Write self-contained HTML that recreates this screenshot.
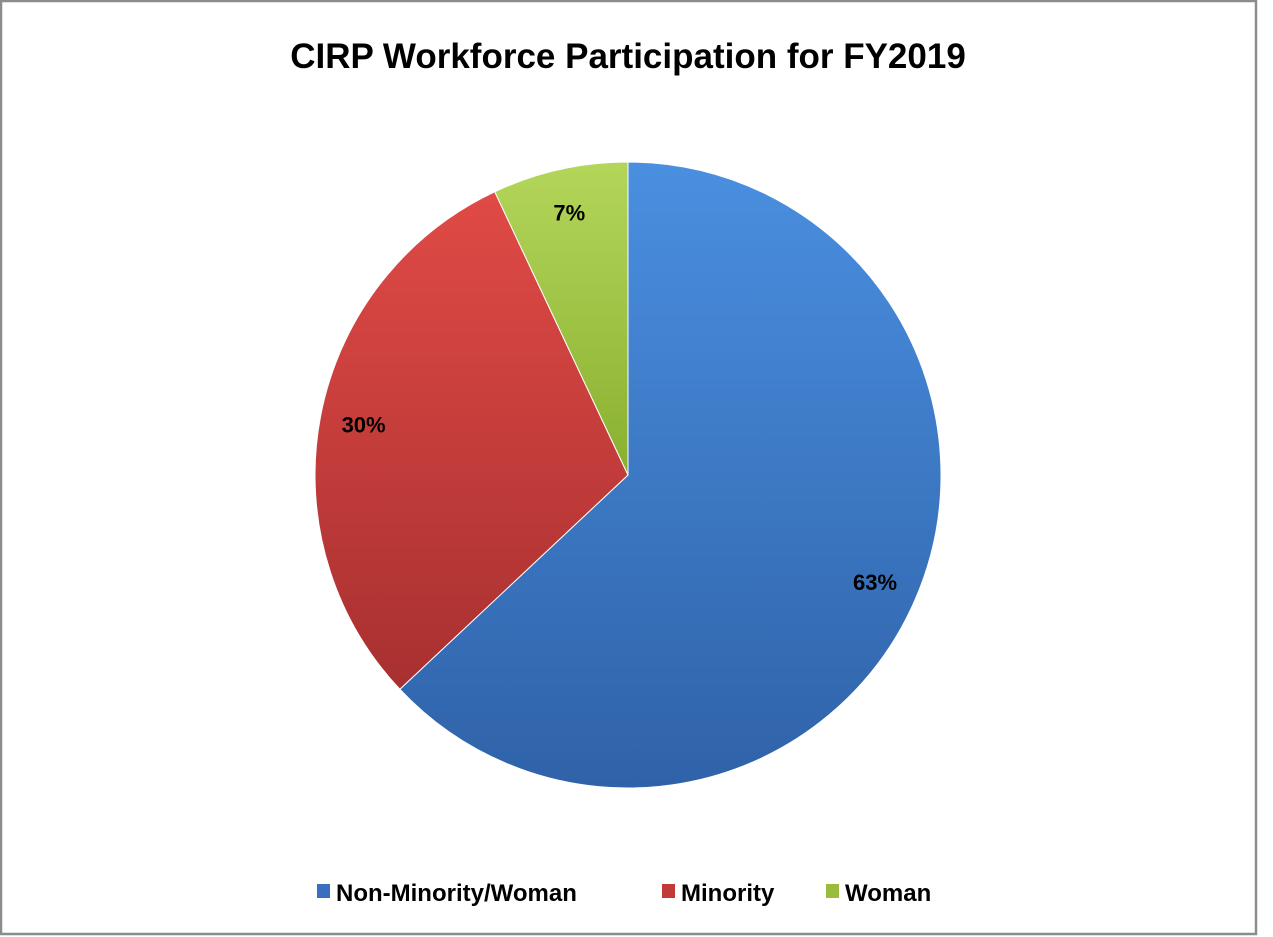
<!DOCTYPE html>
<html><head><meta charset="utf-8"><style>
body{margin:0;background:#fff;width:1273px;height:937px;overflow:hidden}
svg{display:block;font-family:"Liberation Sans",sans-serif}
</style></head><body>
<svg width="1273" height="937">
<defs>
<linearGradient id="gb" x1="0" y1="0" x2="0" y2="1"><stop offset="0" stop-color="#4a8fe0"/><stop offset="1" stop-color="#2f62a8"/></linearGradient>
<linearGradient id="gr" x1="0" y1="0" x2="0" y2="1"><stop offset="0" stop-color="#e04a46"/><stop offset="1" stop-color="#a83030"/></linearGradient>
<linearGradient id="gg" x1="0" y1="0" x2="0" y2="1"><stop offset="0" stop-color="#b3d65a"/><stop offset="1" stop-color="#8ab030"/></linearGradient>
</defs>
<rect x="1" y="1" width="1255" height="933" fill="#fff" stroke="#8c8c8c" stroke-width="2.5"/>
<text x="628" y="68" text-anchor="middle" font-size="35" font-weight="bold" fill="#000">CIRP Workforce Participation for FY2019</text>
<g id="pie"></g>
<g id="legend"></g>
</svg>
<script>
const categories=["Non-Minority/Woman","Minority","Woman"];
const values=[63,30,7];
const labels=["63%","30%","7%"];
const fills=["url(#gb)","url(#gr)","url(#gg)"];
const swatch=["#3a6fbf","#c23a38","#9bbb3c"];
const cx=628,cy=475,r=313;
const ns="http://www.w3.org/2000/svg";
const pie=document.getElementById('pie');
const total=values.reduce((a,b)=>a+b,0);
let a0=0;
function pt(a,rr){return [cx+rr*Math.sin(a),cy-rr*Math.cos(a)];}
values.forEach((v,i)=>{
  const a1=a0+v/total*2*Math.PI;
  const p0=pt(a0,r),p1=pt(a1,r);
  const large=(a1-a0)>Math.PI?1:0;
  const path=document.createElementNS(ns,'path');
  path.setAttribute('d',`M${cx},${cy}L${p0[0]},${p0[1]}A${r},${r} 0 ${large} 1 ${p1[0]},${p1[1]}Z`);
  path.setAttribute('fill',fills[i]);
  path.setAttribute('stroke','#fff');
  path.setAttribute('stroke-width','1');
  
  
  pie.appendChild(path);
  const am=(a0+a1)/2;
  const lp=pt(am,r*0.86);
  const t=document.createElementNS(ns,'text');
  t.setAttribute('x',lp[0]);t.setAttribute('y',lp[1]+8);
  t.setAttribute('text-anchor','middle');
  t.setAttribute('font-size','22');t.setAttribute('font-weight','bold');
  t.textContent=labels[i];
  
  
  pie.appendChild(t);
  a0=a1;
});
const lg=document.getElementById('legend');
const lx=[317,662,826];
categories.forEach((c,i)=>{
  const g=document.createElementNS(ns,'g');
  
  
  const s=document.createElementNS(ns,'rect');
  s.setAttribute('x',lx[i]);s.setAttribute('y',884);s.setAttribute('width',13);s.setAttribute('height',14);
  s.setAttribute('fill',swatch[i]);
  g.appendChild(s);
  const t=document.createElementNS(ns,'text');
  t.setAttribute('x',lx[i]+19);t.setAttribute('y',901);
  t.setAttribute('font-size','24');t.setAttribute('font-weight','bold');
  t.textContent=c;
  g.appendChild(t);
  lg.appendChild(g);
});
</script>
</body></html>
